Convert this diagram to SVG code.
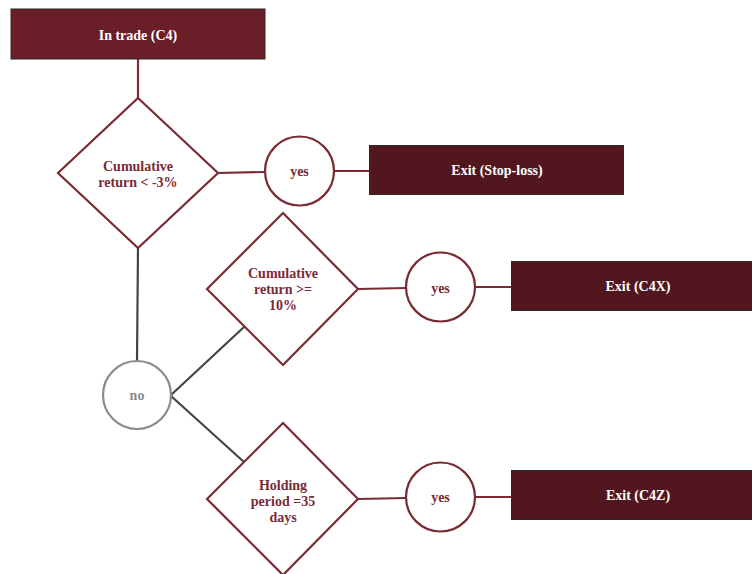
<svg xmlns="http://www.w3.org/2000/svg" width="752" height="574" viewBox="0 0 752 574">
<style>
  .box { stroke: #2a2a2a; stroke-width: 1; }
  .top { fill: #6a1f28; }
  .exit { fill: #52171e; }
  .dia { fill: #ffffff; stroke: #7a2a33; stroke-width: 2.2; }
  .yes { fill: #ffffff; stroke: #7a2a33; stroke-width: 2.2; }
  .no { fill: #ffffff; stroke: #8a8a8a; stroke-width: 2.2; }
  .lr { stroke: #7a2a33; stroke-width: 2.2; fill: none; }
  .lg { stroke: #444444; stroke-width: 2.2; fill: none; }
  text { font-family: "Liberation Serif", "DejaVu Serif", serif; font-weight: bold; text-anchor: middle; dominant-baseline: central; font-size: 14px; }
  .wt { fill: #ffffff; }
  .rt { fill: #7a2a35; }
  .gt { fill: #8a8a8a; }
</style>
<g id="connectors">
  <line class="lr" x1="138" y1="59" x2="138" y2="98"/>
  <line class="lr" x1="218" y1="173" x2="265" y2="172"/>
  <line class="lr" x1="334" y1="171" x2="370" y2="171"/>
  <line class="lg" x1="138" y1="248" x2="137" y2="361"/>
  <line class="lg" x1="171" y1="395" x2="244" y2="327"/>
  <line class="lg" x1="171" y1="396" x2="244" y2="462"/>
  <line class="lr" x1="358" y1="289" x2="406" y2="288"/>
  <line class="lr" x1="475" y1="287" x2="511" y2="287"/>
  <line class="lr" x1="358" y1="499" x2="406" y2="498"/>
  <line class="lr" x1="475" y1="497" x2="511" y2="497"/>
</g>
<g id="in-trade">
  <rect class="box top" x="11" y="9" width="254" height="50"/>
  <text class="wt" x="138" y="35">In trade (C4)</text>
</g>
<g id="cond-stoploss">
  <polygon class="dia" points="138,98 218,173 138,248 58,173"/>
  <text class="rt" x="138" y="166">Cumulative</text>
  <text class="rt" x="138" y="182">return &lt; -3%</text>
</g>
<g id="yes1">
  <circle class="yes" cx="299.5" cy="171" r="34.5"/>
  <text class="rt" x="299.5" y="171">yes</text>
</g>
<g id="exit-stoploss">
  <rect class="box exit" x="369.5" y="145.5" width="254" height="49"/>
  <text class="wt" x="497" y="170">Exit (Stop-loss)</text>
</g>
<g id="no">
  <circle class="no" cx="137" cy="395" r="34"/>
  <text class="gt" x="137" y="395">no</text>
</g>
<g id="cond-c4x">
  <polygon class="dia" points="283,213 358,289 283,365 207,289"/>
  <text class="rt" x="283" y="273">Cumulative</text>
  <text class="rt" x="283" y="289">return &gt;=</text>
  <text class="rt" x="283" y="305">10%</text>
</g>
<g id="yes2">
  <circle class="yes" cx="440.5" cy="287" r="34.5"/>
  <text class="rt" x="440.5" y="288">yes</text>
</g>
<g id="exit-c4x">
  <rect class="box exit" x="511.5" y="261.5" width="254" height="49"/>
  <text class="wt" x="638" y="286">Exit (C4X)</text>
</g>
<g id="cond-c4z">
  <polygon class="dia" points="283,423 358,499 283,575 207,499"/>
  <text class="rt" x="283" y="485">Holding</text>
  <text class="rt" x="283" y="501">period =35</text>
  <text class="rt" x="283" y="517">days</text>
</g>
<g id="yes3">
  <circle class="yes" cx="440.5" cy="497" r="34.5"/>
  <text class="rt" x="440.5" y="497">yes</text>
</g>
<g id="exit-c4z">
  <rect class="box exit" x="511.5" y="470.5" width="254" height="49"/>
  <text class="wt" x="638" y="495">Exit (C4Z)</text>
</g>
</svg>
